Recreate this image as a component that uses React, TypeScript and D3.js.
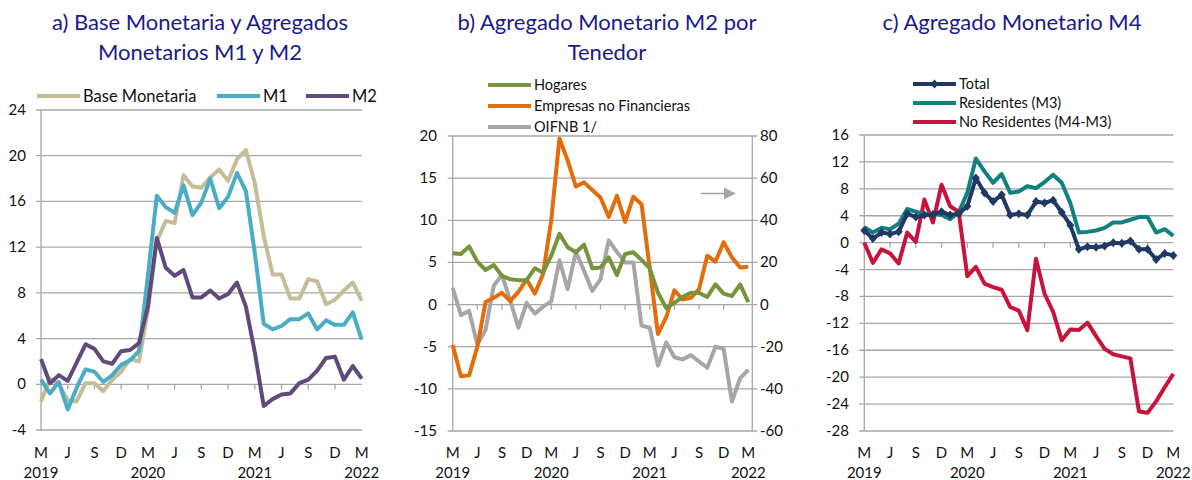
import React from "react";
import * as d3 from "d3";

// ---------- DATA ----------
const months = [
  "2019-03","2019-04","2019-05","2019-06","2019-07","2019-08","2019-09","2019-10","2019-11","2019-12",
  "2020-01","2020-02","2020-03","2020-04","2020-05","2020-06","2020-07","2020-08","2020-09","2020-10","2020-11","2020-12",
  "2021-01","2021-02","2021-03","2021-04","2021-05","2021-06","2021-07","2021-08","2021-09","2021-10","2021-11","2021-12",
  "2022-01","2022-02","2022-03",
];
const tickMonths = ["2019-03","2019-06","2019-09","2019-12","2020-03","2020-06","2020-09","2020-12","2021-03","2021-06","2021-09","2021-12","2022-03"];
const tickLetters = ["M","J","S","D","M","J","S","D","M","J","S","D","M"];
const yearLabels = ["2019","","","","2020","","","","2021","","","","2022"];

// Panel a
const baseMonetaria = [-1.5,0.5,0.0,-1.4,-1.5,0.1,0.1,-0.6,0.4,1.1,2.2,2.0,6.5,12.5,14.3,14.1,18.3,17.3,17.2,18.1,18.8,17.8,19.7,20.5,17.6,13.0,9.6,9.6,7.5,7.5,9.2,9.0,7.0,7.4,8.2,8.9,7.3];
const m1 = [0.4,-0.8,0.2,-2.2,-0.3,1.3,1.1,0.2,0.8,1.7,2.1,2.9,9.5,16.5,15.5,15.0,17.4,14.8,15.9,18.0,15.4,16.4,18.5,16.9,11.5,5.3,4.8,5.1,5.7,5.7,6.2,4.8,5.6,5.2,5.2,6.3,3.9];
const m2 = [2.2,0.1,0.8,0.3,1.9,3.5,3.1,2.0,1.8,2.9,3.0,3.6,6.8,12.8,10.2,9.5,10.0,7.6,7.6,8.2,7.5,7.9,8.9,6.8,2.8,-1.9,-1.3,-0.9,-0.8,0.1,0.4,1.2,2.3,2.4,0.4,1.6,0.5];
const aTicks = [-4,0,4,8,12,16,20,24];

// Panel b
const hogares = [6.1,6.0,6.9,5.1,4.1,4.7,3.4,3.0,2.9,2.9,4.3,3.8,5.8,8.4,6.8,6.2,7.1,4.3,4.4,5.6,3.5,6.0,6.2,5.3,4.3,1.4,-0.4,0.2,0.9,1.4,1.4,0.9,2.4,1.3,1.0,2.4,0.3];
const empresas = [-4.8,-8.5,-8.4,-5.0,0.3,0.8,1.4,0.4,1.5,3.0,1.3,3.6,10.0,19.7,17.1,14.0,14.5,13.6,12.7,10.4,12.9,9.8,12.8,11.9,4.3,-3.5,-1.5,1.7,0.6,0.8,1.8,5.8,5.1,7.4,5.6,4.4,4.5];
const oifnb = [8,-5,-3,-19,-12,9,14,2,-11,0.8,-4.3,-1,1.5,21,7.3,25,16,6.5,12,30.5,25,20,20,-10,-11,-29,-18,-25,-26,-24,-27,-30,-20,-21,-46,-35,-31];
const bTicksLeft = [-15,-10,-5,0,5,10,15,20];
const bTicksRight = [-60,-40,-20,0,20,40,60,80];

// Panel c
const total = [1.8,0.6,1.5,1.3,1.6,4.3,3.8,4.1,4.2,4.6,4.1,4.3,5.4,9.6,7.4,6.1,7.1,4.1,4.3,4.1,6.1,5.9,6.3,4.5,2.6,-1.0,-0.6,-0.7,-0.5,0.0,-0.1,0.25,-1.0,-1.0,-2.5,-1.6,-1.9];
const residentes = [2.3,1.5,2.2,2.0,2.8,5.0,4.6,4.2,4.3,4.1,3.5,4.5,7.4,12.5,10.6,8.9,10.2,7.4,7.6,8.4,8.1,9.0,10.1,8.9,5.9,1.5,1.6,1.8,2.2,3.0,3.0,3.4,3.8,3.8,1.5,2.0,1.0];
const noResidentes = [0,-3.0,-1.0,-1.6,-3.1,1.5,0.1,6.4,3.0,8.6,5.4,4.6,-5.0,-3.6,-6.1,-6.6,-7.0,-9.6,-10.1,-13.0,-2.4,-7.6,-10.3,-14.5,-12.9,-13.0,-11.9,-13.9,-15.8,-16.6,-16.9,-17.2,-25.1,-25.3,-23.6,-21.5,-19.5];
const cTicks = [-28,-24,-20,-16,-12,-8,-4,0,4,8,12,16];

// ---------- STYLE ----------
const FONT = "Lato, 'Open Sans', sans-serif";
const TITLE_COLOR = "#1a1a8c";
const GRID = "#a6a6a6";
const C = {
  tan: "#c4bd97", cyan: "#4bacc6", purple: "#604a7b",
  green: "#77933c", orange: "#e46c0a", gray: "#a6a6a6",
  navy: "#1f3864", teal: "#138080", red: "#c8143c",
};

type Series = { name: string; values: number[]; color: string; right?: boolean; marker?: boolean };

function XAxis({ x, y0, yLabel }: { x: d3.ScalePoint<string>; y0: number; yLabel: number }) {
  return (
    <g>
      {tickMonths.map((m, i) => (
        <g key={m}>
          {i > 0 && i < tickMonths.length - 1 && (
            <line x1={x(m)} x2={x(m)} y1={y0} y2={y0 + 5} stroke={GRID} strokeWidth={1.3} />
          )}
          <text x={x(m)} y={yLabel} textAnchor="middle" fontSize={15} fill="#111">{tickLetters[i]}</text>
          {yearLabels[i] && (
            <text x={x(m)} y={yLabel + 20} textAnchor="middle" fontSize={15} fill="#111">{yearLabels[i]}</text>
          )}
        </g>
      ))}
    </g>
  );
}

function Lines({ series, x, y, yR }: { series: Series[]; x: d3.ScalePoint<string>; y: d3.ScaleLinear<number, number>; yR?: d3.ScaleLinear<number, number> }) {
  return (
    <g>
      {series.map((s) => {
        const sc = s.right && yR ? yR : y;
        const line = d3.line<number>().x((_, i) => x(months[i]) as number).y((v) => sc(v));
        return (
          <g key={s.name}>
            <path d={line(s.values) || ""} fill="none" stroke={s.color} strokeWidth={4} strokeLinejoin="round" />
            {s.marker && s.values.map((v, i) => {
              const cx = x(months[i]) as number, cy = sc(v);
              return <path key={i} d={`M${cx},${cy - 4.5}L${cx + 4},${cy}L${cx},${cy + 4.5}L${cx - 4},${cy}Z`} fill={s.color} />;
            })}
          </g>
        );
      })}
    </g>
  );
}

function LegendItem({ x, y, color, label, marker, fs = 14.5 }: { x: number; y: number; color: string; label: string; marker?: boolean; fs?: number }) {
  return (
    <g>
      <line x1={x} x2={x + 43} y1={y} y2={y} stroke={color} strokeWidth={4} />
      {marker && <path d={`M${x + 21.5},${y - 4.5}L${x + 25.5},${y}L${x + 21.5},${y + 4.5}L${x + 17.5},${y}Z`} fill={color} />}
      <text x={x + 46} y={y + fs * 0.36} fontSize={fs} fill="#111">{label}</text>
    </g>
  );
}

export default function App() {
  // Panel a
  const xa = d3.scalePoint<string>().domain(months).range([41, 361.7]);
  const ya = d3.scaleLinear().domain([-4, 24]).range([430, 110]);
  // Panel b
  const xb = d3.scalePoint<string>().domain(months).range([452.7, 748.3]);
  const yb = d3.scaleLinear().domain([-15, 20]).range([431, 136]);
  const ybR = d3.scaleLinear().domain([-60, 80]).range([431, 136]);
  const bRight = 752.3;
  // Panel c
  const xc = d3.scalePoint<string>().domain(months).range([864.3, 1173.3]);
  const yc = d3.scaleLinear().domain([-28, 16]).range([431, 135]);

  const seriesA: Series[] = [
    { name: "Base Monetaria", values: baseMonetaria, color: C.tan },
    { name: "M1", values: m1, color: C.cyan },
    { name: "M2", values: m2, color: C.purple },
  ];
  const seriesB: Series[] = [
    { name: "OIFNB 1/", values: oifnb, color: C.gray, right: true },
    { name: "Empresas no Financieras", values: empresas, color: C.orange },
    { name: "Hogares", values: hogares, color: C.green },
  ];
  const seriesC: Series[] = [
    { name: "No Residentes (M4-M3)", values: noResidentes, color: C.red },
    { name: "Residentes (M3)", values: residentes, color: C.teal },
    { name: "Total", values: total, color: C.navy, marker: true },
  ];

  const labelY = 458;

  return (
    <svg width={1192} height={480} style={{ position: "absolute", left: 0, top: 0, background: "#fff" }} fontFamily={FONT}>
      {/* Titles */}
      <g fill={TITLE_COLOR} fontSize={22} textAnchor="middle">
        <text x={200} y={30}>a) Base Monetaria y Agregados</text>
        <text x={200} y={60}>Monetarios M1 y M2</text>
        <text x={607} y={30}>b) Agregado Monetario M2 por</text>
        <text x={607} y={60}>Tenedor</text>
        <text x={1012} y={30}>c) Agregado Monetario M4</text>
      </g>

      {/* ---- Panel a ---- */}
      <g>
        {aTicks.map((t) => (
          <g key={t}>
            <line x1={36} x2={361.7} y1={ya(t)} y2={ya(t)} stroke={GRID} strokeWidth={1.3} />
            <text x={26} y={ya(t) + 5} textAnchor="end" fontSize={15} fill="#111">{t}</text>
          </g>
        ))}
        <line x1={41} x2={41} y1={ya(24)} y2={ya(-4)} stroke={GRID} strokeWidth={1.3} />
        <XAxis x={xa} y0={ya(0)} yLabel={labelY} />
        <Lines series={seriesA} x={xa} y={ya} />
        <LegendItem x={37} y={96} color={C.tan} label="Base Monetaria" fs={16.5} />
        <LegendItem x={217} y={96} color={C.cyan} label="M1" fs={16.5} />
        <LegendItem x={306} y={96} color={C.purple} label="M2" fs={16.5} />
      </g>

      {/* ---- Panel b ---- */}
      <g>
        {bTicksLeft.map((t, i) => (
          <g key={t}>
            <line x1={447.7} x2={bRight + 5} y1={yb(t)} y2={yb(t)} stroke={GRID} strokeWidth={1.3} />
            <text x={437} y={yb(t) + 5} textAnchor="end" fontSize={15} fill="#111">{t}</text>
            <text x={760} y={ybR(bTicksRight[i]) + 5} textAnchor="start" fontSize={15} fill="#111">{bTicksRight[i]}</text>
          </g>
        ))}
        <line x1={452.7} x2={452.7} y1={yb(20)} y2={yb(-15)} stroke={GRID} strokeWidth={1.3} />
        <line x1={bRight} x2={bRight} y1={yb(20)} y2={yb(-15)} stroke={GRID} strokeWidth={1.3} />
        <XAxis x={xb} y0={yb(0)} yLabel={labelY} />
        <Lines series={seriesB} x={xb} y={yb} yR={ybR} />
        {/* arrow indicating right axis */}
        <line x1={701} x2={726} y1={193.5} y2={193.5} stroke={C.gray} strokeWidth={1.5} />
        <path d="M724,187.5L736,193.5L724,199.5Z" fill={C.gray} />
        <LegendItem x={488} y={85} color={C.green} label="Hogares" />
        <LegendItem x={488} y={106} color={C.orange} label="Empresas no Financieras" />
        <LegendItem x={488} y={127} color={C.gray} label="OIFNB 1/" />
      </g>

      {/* ---- Panel c ---- */}
      <g>
        {cTicks.map((t) => (
          <g key={t}>
            <line x1={859.3} x2={1173.3} y1={yc(t)} y2={yc(t)} stroke={GRID} strokeWidth={1.3} />
            <text x={849} y={yc(t) + 5} textAnchor="end" fontSize={15} fill="#111">{t}</text>
          </g>
        ))}
        <line x1={864.3} x2={864.3} y1={yc(16)} y2={yc(-28)} stroke={GRID} strokeWidth={1.3} />
        <XAxis x={xc} y0={yc(0)} yLabel={labelY} />
        <Lines series={seriesC} x={xc} y={yc} />
        <LegendItem x={913} y={84} color={C.navy} label="Total" marker />
        <LegendItem x={913} y={103} color={C.teal} label="Residentes (M3)" />
        <LegendItem x={913} y={122} color={C.red} label="No Residentes (M4-M3)" />
      </g>
    </svg>
  );
}
